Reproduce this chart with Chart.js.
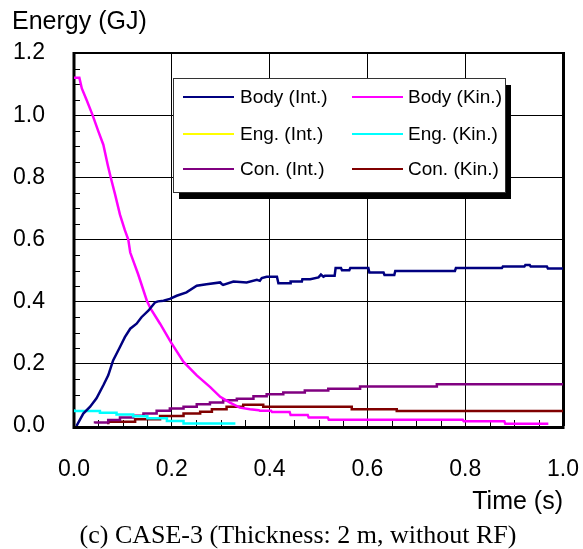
<!DOCTYPE html>
<html><head><meta charset="utf-8">
<script src="https://cdn.jsdelivr.net/npm/chart.js@4/dist/chart.umd.min.js"></script>
<style>
html,body{margin:0;padding:0;background:#fff;}
#wrap{position:relative;width:583px;height:549px;overflow:hidden;}
#c{position:absolute;left:0;top:0;}
#cap{position:absolute;left:0;width:596px;top:520px;text-align:center;font-family:"Liberation Serif";font-size:26px;line-height:30px;color:#000;white-space:nowrap;}
</style></head><body>
<div id="wrap"><canvas id="c" width="583" height="549"></canvas><div id="cap">(c) CASE-3 (Thickness: 2 m, without RF)</div></div>
<script>
// ---- data (time in s, energy in GJ) ----
const xTickLabels = ["0.0","0.2","0.4","0.6","0.8","1.0"];
const yTickLabels = ["0.0","0.2","0.4","0.6","0.8","1.0","1.2"];
const seriesNames = ["Body (Int.)","Body (Kin.)","Eng. (Int.)","Eng. (Kin.)","Con. (Int.)","Con. (Kin.)"];

const bodyIntT = [0.005,0.019,0.033,0.046,0.060,0.070,0.080,0.094,0.104,0.115,0.128,0.138,0.152,0.166,0.172,0.183,0.196,0.210,0.230,0.251,0.271,0.299,0.302,0.305,0.326,0.353,0.374,0.380,0.384,0.394,0.415,0.418,0.442,0.443,0.466,0.467,0.483,0.500,0.505,0.510,0.513,0.533,0.535,0.546,0.548,0.563,0.565,0.602,0.604,0.633,0.635,0.655,0.657,0.779,0.781,0.875,0.877,0.921,0.923,0.932,0.934,0.967,0.969,1.000];
const bodyIntE = [0.000,0.040,0.062,0.089,0.131,0.163,0.211,0.254,0.286,0.313,0.329,0.350,0.371,0.398,0.401,0.403,0.409,0.419,0.430,0.451,0.456,0.462,0.457,0.454,0.465,0.462,0.470,0.467,0.476,0.480,0.480,0.459,0.459,0.465,0.465,0.472,0.472,0.478,0.487,0.480,0.483,0.483,0.508,0.508,0.501,0.501,0.508,0.508,0.494,0.494,0.486,0.486,0.499,0.499,0.508,0.508,0.513,0.513,0.518,0.518,0.513,0.513,0.507,0.507];

const bodyKinT = [0.000,0.011,0.016,0.026,0.038,0.050,0.060,0.069,0.075,0.084,0.094,0.104,0.111,0.115,0.131,0.149,0.157,0.176,0.198,0.224,0.251,0.278,0.299,0.319,0.339,0.360,0.378,0.380,0.403,0.405,0.441,0.443,0.478,0.480,0.519,0.521,0.795,0.797,0.880,0.882,0.970];
const bodyKinE = [1.120,1.120,1.086,1.048,1.000,0.947,0.905,0.840,0.800,0.745,0.680,0.630,0.600,0.558,0.489,0.403,0.377,0.329,0.270,0.206,0.163,0.126,0.094,0.075,0.059,0.054,0.051,0.049,0.049,0.045,0.045,0.035,0.035,0.027,0.027,0.020,0.020,0.015,0.015,0.007,0.007];

const engIntT = [];
const engIntE = [];

const engKinT = [0.000,0.053,0.087,0.121,0.150,0.190,0.224,0.258,0.330];
const engKinE = [0.054,0.048,0.043,0.037,0.031,0.025,0.016,0.008,0.008];

const conIntT = [0.043,0.070,0.094,0.121,0.142,0.169,0.196,0.224,0.251,0.278,0.305,0.333,0.367,0.394,0.428,0.472,0.520,0.585,0.742,0.977,1.000];
const conIntE = [0.008,0.011,0.019,0.027,0.033,0.040,0.049,0.056,0.062,0.070,0.076,0.083,0.088,0.096,0.102,0.108,0.114,0.120,0.127,0.134,0.134];

const conKinT = [0.070,0.125,0.176,0.224,0.258,0.282,0.312,0.346,0.387,0.568,0.660,0.820,1.000];
const conKinE = [0.006,0.014,0.022,0.032,0.040,0.046,0.054,0.062,0.068,0.062,0.054,0.048,0.048];

const seriesColors = ["#000080","#FF00FF","#FFFF00","#00FFFF","#800080","#800000"];

function xy(t, e){ return t.map((v,i)=>({x:v, y:e[i]})); }

const FONT = "Liberation Sans";

const framePlugin = {
  id:'frame',
  beforeDatasetsDraw(chart){
    const {ctx, chartArea:a, scales:{x, y}} = chart;
    ctx.save();
    ctx.strokeStyle = '#000';
    ctx.lineWidth = 1;
    for(let k=1;k<24;k++){
      if(k%4===0) continue;
      const py = Math.round(y.getPixelForValue(k*0.05))+0.5;
      ctx.beginPath(); ctx.moveTo(a.left, py); ctx.lineTo(a.left+6, py); ctx.stroke();
    }
    for(let k=1;k<20;k++){
      if(k%4===0) continue;
      const px = Math.round(x.getPixelForValue(k*0.05))+0.5;
      ctx.beginPath(); ctx.moveTo(px, a.bottom); ctx.lineTo(px, a.bottom-6); ctx.stroke();
    }
    ctx.lineWidth = 3;
    ctx.beginPath(); ctx.moveTo(a.left, a.top-1); ctx.lineTo(a.left, a.bottom+1.5); ctx.lineTo(a.right+1.5, a.bottom+1.5); ctx.stroke();
    ctx.beginPath(); ctx.moveTo(a.right+0.5, a.top-1); ctx.lineTo(a.right+0.5, a.bottom); ctx.stroke();
    ctx.lineWidth = 2;
    ctx.beginPath(); ctx.moveTo(a.left, a.top); ctx.lineTo(a.right+2, a.top); ctx.stroke();
    ctx.restore();
  }
};

const legendPlugin = {
  id:'boxLegend',
  afterDatasetsDraw(chart){
    const ctx = chart.ctx;
    const L = {x:173, y:78, w:332, h:114, sx:6, sy:7};
    ctx.save();
    ctx.fillStyle = '#000';
    ctx.fillRect(L.x+L.sx, L.y+L.sy, L.w, L.h);
    ctx.fillStyle = '#fff';
    ctx.fillRect(L.x, L.y, L.w, L.h);
    ctx.strokeStyle = '#333';
    ctx.lineWidth = 1;
    ctx.strokeRect(L.x+0.5, L.y+0.5, L.w, L.h);
    const rows = [97,134,169];
    const cols = [{lx:183, tx:240},{lx:352, tx:408}];
    ctx.font = "19px " + FONT;
    ctx.textBaseline = 'middle';
    chart.data.datasets.forEach((ds,i)=>{
      const r = rows[Math.floor(i/2)], c = cols[i%2];
      ctx.strokeStyle = ds.borderColor;
      ctx.lineWidth = 2;
      ctx.beginPath(); ctx.moveTo(c.lx, r); ctx.lineTo(c.lx+51, r); ctx.stroke();
      ctx.fillStyle = '#000';
      ctx.fillText(ds.label, c.tx, r+1);
    });
    ctx.restore();
  }
};

const datasets = [
  {label:seriesNames[0], data:xy(bodyIntT,bodyIntE), borderColor:seriesColors[0]},
  {label:seriesNames[1], data:xy(bodyKinT,bodyKinE), borderColor:seriesColors[1]},
  {label:seriesNames[2], data:xy(engIntT,engIntE), borderColor:seriesColors[2], stepped:'after'},
  {label:seriesNames[3], data:xy(engKinT,engKinE), borderColor:seriesColors[3], stepped:'after'},
  {label:seriesNames[4], data:xy(conIntT,conIntE), borderColor:seriesColors[4], stepped:'after'},
  {label:seriesNames[5], data:xy(conKinT,conKinE), borderColor:seriesColors[5], stepped:'after'}
].map(d=>Object.assign({borderWidth:2.5, pointRadius:0, fill:false, tension:0}, d));

new Chart(document.getElementById('c'), {
  type:'line',
  data:{datasets},
  options:{
    responsive:false, animation:false, devicePixelRatio:1,
    layout:{padding:{left:12, right:20, top:0, bottom:32}},
    plugins:{
      legend:{display:false},
      tooltip:{enabled:false},
      title:{display:true, text:'Energy (GJ)', align:'start', color:'#000',
             font:{family:FONT, size:25, weight:'normal'}, padding:{top:7, bottom:16}}
    },
    scales:{
      x:{type:'linear', min:0, max:1,
         ticks:{stepSize:0.2, color:'#000', padding:30, maxRotation:0,
                font:{family:FONT, size:23},
                callback:(v)=>xTickLabels[Math.round(v/0.2)]},
         grid:{color:'#000', lineWidth:1, drawTicks:false},
         border:{display:false},
         title:{display:true, text:'Time (s)', align:'end', color:'#000',
                font:{family:FONT, size:25}, padding:{top:4, bottom:0}},
         afterFit(s){ s.height = 91; s.paddingLeft = 0; s.paddingRight = 0; }},
      y:{min:0, max:1.2,
         ticks:{stepSize:0.2, color:'#000', padding:29,
                font:{family:FONT, size:23},
                callback:(v)=>yTickLabels[Math.round(v/0.2)]},
         grid:{color:'#000', lineWidth:1, drawTicks:false},
         border:{display:false},
         afterFit(s){ s.width = 62; s.paddingTop = 0; s.paddingBottom = 0; }}
    }
  },
  plugins:[framePlugin, legendPlugin]
});
</script>
</body></html>
